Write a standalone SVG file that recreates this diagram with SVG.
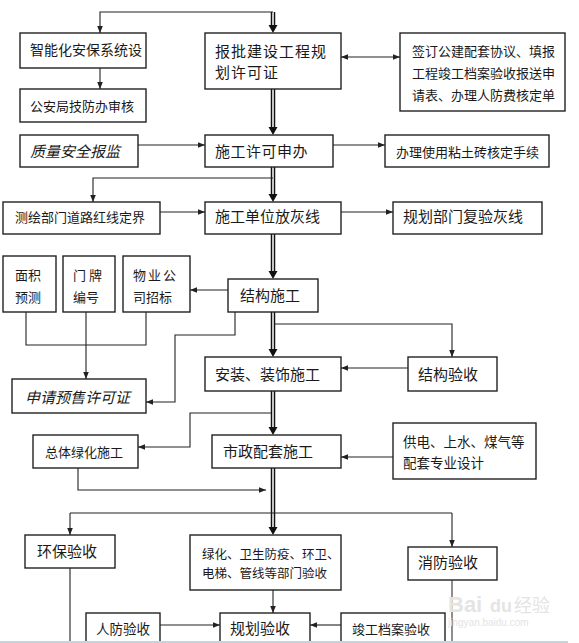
<svg xmlns="http://www.w3.org/2000/svg" width="579" height="643" viewBox="0 0 579 643">
<style>
.box{fill:#fff;stroke:#222;stroke-width:1.4}
.t{font-family:"Noto Sans CJK SC","Noto Sans",sans-serif;fill:#1a1a1a}
.f15{font-size:15px}
.f13{font-size:13px}
.it{font-style:italic}
.ln{fill:none;stroke:#222;stroke-width:1.1}
.dbl{fill:none;stroke:#111;stroke-width:1.5}
.ah{fill:#111}
.wm{font-family:"Liberation Sans",sans-serif;fill:#e4e4e4}
</style>
<defs>
<marker id="a" viewBox="0 0 10 10" refX="10" refY="5" markerUnits="userSpaceOnUse" markerWidth="7" markerHeight="7" orient="auto-start-reverse">
<path d="M0,1 L10,5 L0,9 z" fill="#222"/>
</marker>
</defs>
<rect width="579" height="643" fill="#fff"/>

<g id="connectors">
<!-- top line -->
<polyline class="ln" points="273,12 100,12 100,33" marker-end="url(#a)"/>
<line class="ln" x1="100" y1="68" x2="100" y2="89" marker-end="url(#a)"/>
<!-- spine -->
<line class="dbl" x1="271.5" y1="12" x2="271.5" y2="25"/><line class="dbl" x1="274.5" y1="12" x2="274.5" y2="25"/><polygon class="ah" points="268.5,25 277.5,25 273,33"/>
<line class="dbl" x1="271.5" y1="89" x2="271.5" y2="127"/><line class="dbl" x1="274.5" y1="89" x2="274.5" y2="127"/><polygon class="ah" points="268.5,127 277.5,127 273,135"/>
<line class="dbl" x1="271.5" y1="167" x2="271.5" y2="194"/><line class="dbl" x1="274.5" y1="167" x2="274.5" y2="194"/><polygon class="ah" points="268.5,194 277.5,194 273,202"/>
<line class="dbl" x1="271.5" y1="234" x2="271.5" y2="271"/><line class="dbl" x1="274.5" y1="234" x2="274.5" y2="271"/><polygon class="ah" points="268.5,271 277.5,271 273,279"/>
<line class="dbl" x1="271.5" y1="312" x2="271.5" y2="349"/><line class="dbl" x1="274.5" y1="312" x2="274.5" y2="349"/><polygon class="ah" points="268.5,349 277.5,349 273,357"/>
<line class="dbl" x1="271.5" y1="391" x2="271.5" y2="427"/><line class="dbl" x1="274.5" y1="391" x2="274.5" y2="427"/><polygon class="ah" points="268.5,427 277.5,427 273,435"/>
<line class="dbl" x1="271.5" y1="468" x2="271.5" y2="527"/><line class="dbl" x1="274.5" y1="468" x2="274.5" y2="527"/><polygon class="ah" points="268.5,527 277.5,527 273,535"/>
<line class="ln" x1="273" y1="590" x2="273" y2="613" marker-end="url(#a)"/>
<!-- side arrows -->
<line class="ln" x1="341" y1="57" x2="400" y2="57" marker-start="url(#a)" marker-end="url(#a)"/>
<line class="ln" x1="138" y1="145" x2="205" y2="145" marker-end="url(#a)"/>
<line class="ln" x1="333" y1="145" x2="385" y2="145" marker-end="url(#a)"/>
<polyline class="ln" points="273,178 93,178 93,202" marker-end="url(#a)"/>
<line class="ln" x1="160" y1="212" x2="205" y2="212" marker-end="url(#a)"/>
<line class="ln" x1="341" y1="212" x2="393" y2="212" marker-end="url(#a)"/>
<line class="ln" x1="228" y1="290" x2="190" y2="290" marker-end="url(#a)"/>
<polyline class="ln" points="26,312 26,345 146,345 146,312"/>
<line class="ln" x1="86" y1="312" x2="86" y2="379" marker-end="url(#a)"/>
<polyline class="ln" points="235,312 235,335 175,335 175,402 146,402" marker-end="url(#a)"/>
<polyline class="ln" points="275,324 452,324 452,357" marker-end="url(#a)"/>
<line class="ln" x1="408" y1="368" x2="341" y2="368" marker-end="url(#a)"/>
<polyline class="ln" points="271,413 190,413 190,447 138,447" marker-end="url(#a)"/>
<polyline class="ln" points="78,468 78,490 266,490" marker-end="url(#a)"/>
<line class="ln" x1="393" y1="457" x2="341" y2="457" marker-end="url(#a)"/>
<line class="ln" x1="70" y1="513" x2="452" y2="513"/>
<line class="ln" x1="70" y1="513" x2="70" y2="535" marker-end="url(#a)"/>
<line class="ln" x1="452" y1="513" x2="452" y2="547" marker-end="url(#a)"/>
<line x1="70" y1="568" x2="70" y2="643" stroke="#666" stroke-width="1.6"/>
<line x1="452" y1="580" x2="452" y2="643" stroke="#444" stroke-width="1.2"/>
<line class="ln" x1="160" y1="625" x2="220" y2="625" marker-end="url(#a)"/>
<line class="ln" x1="341" y1="625" x2="310" y2="625" marker-end="url(#a)"/>
</g>

<g id="n-zhineng"><rect class="box" x="20" y="33" width="126" height="35"/><text class="t" x="30" y="55" font-size="14">智能化安保系统设</text></g>
<g id="n-gongan"><rect class="box" x="20" y="89" width="126" height="33"/><text class="t f13" x="30" y="111">公安局技防办审核</text></g>
<g id="n-baopi"><rect class="box" x="205" y="33" width="136" height="56"/><text class="t f15" x="215" y="57" letter-spacing="1">报批建设工程规</text><text class="t f15" x="215" y="78" letter-spacing="1">划许可证</text></g>
<g id="n-qianding"><rect class="box" x="400" y="33" width="165" height="78"/><text class="t f13" x="412" y="55.5">签订公建配套协议、填报</text><text class="t f13" x="412" y="77.5">工程竣工档案验收报送申</text><text class="t f13" x="412" y="99.5">请表、办理人防费核定单</text></g>
<g id="n-zhiliang"><rect class="box" x="20" y="135" width="118" height="32"/><text class="t f15 it" x="30" y="157">质量安全报监</text></g>
<g id="n-shigongxuke"><rect class="box" x="205" y="135" width="128" height="32"/><text class="t f15" x="215" y="157" letter-spacing="0.5">施工许可申办</text></g>
<g id="n-banli"><rect class="box" x="385" y="135" width="164" height="32"/><text class="t f13" x="396" y="156.5">办理使用粘土砖核定手续</text></g>
<g id="n-cehui"><rect class="box" x="3" y="202" width="157" height="32"/><text class="t f13" x="15" y="221.5">测绘部门道路红线定界</text></g>
<g id="n-fanghui"><rect class="box" x="205" y="202" width="136" height="32"/><text class="t f15" x="215" y="222">施工单位放灰线</text></g>
<g id="n-fuyan"><rect class="box" x="393" y="202" width="149" height="32"/><text class="t f15" x="403" y="222">规划部门复验灰线</text></g>
<g id="n-mianji"><rect class="box" x="3" y="256" width="53" height="56"/><text class="t f13" x="15" y="279.5">面积</text><text class="t f13" x="15" y="301.5">预测</text></g>
<g id="n-menpai"><rect class="box" x="63" y="256" width="52" height="56"/><text class="t f13" x="73" y="279.5">门 牌</text><text class="t f13" x="73" y="301.5">编号</text></g>
<g id="n-wuye"><rect class="box" x="123" y="256" width="67" height="56"/><text class="t f13" x="133" y="279.5" letter-spacing="2">物业公</text><text class="t f13" x="133" y="301.5">司招标</text></g>
<g id="n-jiegou"><rect class="box" x="228" y="279" width="90" height="33"/><text class="t f15" x="240" y="301">结构施工</text></g>
<g id="n-shenqing"><rect class="box" x="12" y="379" width="134" height="34"/><text class="t f15 it" x="25" y="403">申请预售许可证</text></g>
<g id="n-anzhuang"><rect class="box" x="205" y="357" width="136" height="34"/><text class="t f15" x="215" y="380">安装、装饰施工</text></g>
<g id="n-jiegouyanshou"><rect class="box" x="408" y="357" width="89" height="34"/><text class="t f15" x="418" y="380">结构验收</text></g>
<g id="n-zongti"><rect class="box" x="33" y="435" width="105" height="33"/><text class="t f13" x="45" y="456.5">总体绿化施工</text></g>
<g id="n-shizheng"><rect class="box" x="212" y="435" width="129" height="33"/><text class="t f15" x="223" y="457">市政配套施工</text></g>
<g id="n-gongdian"><rect class="box" x="393" y="423" width="143" height="56"/><text class="t" x="403" y="447" font-size="13.5">供电、上水、煤气等</text><text class="t" x="403" y="468" font-size="13.5">配套专业设计</text></g>
<g id="n-huanbao"><rect class="box" x="25" y="535" width="90" height="33"/><text class="t f15" x="37" y="557">环保验收</text></g>
<g id="n-lvhua"><rect class="box" x="190" y="535" width="151" height="55"/><text class="t" x="202" y="558.5" font-size="12.5">绿化、卫生防疫、环卫、</text><text class="t" x="202" y="577.5" font-size="12.5">电梯、管线等部门验收</text></g>
<g id="n-xiaofang"><rect class="box" x="408" y="547" width="89" height="33"/><text class="t f15" x="418" y="568">消防验收</text></g>
<g id="n-renfang"><rect class="box" x="86" y="613" width="74" height="40"/><text class="t" x="96" y="634" font-size="13.5">人防验收</text></g>
<g id="n-guihua"><rect class="box" x="220" y="613" width="90" height="40"/><text class="t f15" x="230" y="634">规划验收</text></g>
<g id="n-jungong"><rect class="box" x="341" y="613" width="104" height="40"/><text class="t f13" x="352" y="634">竣工档案验收</text></g>

<g id="watermark">
<text class="wm" x="448" y="612" font-size="22" font-weight="bold">Bai</text>
<text class="wm" x="490" y="612" font-size="18" font-weight="bold">du</text>
<text x="514" y="612" font-size="18" font-family="Noto Sans CJK SC,sans-serif" fill="#e4e4e4">经验</text>
<text class="wm" x="448" y="626" font-size="10">jingyan.baidu.com</text>
</g>
<rect x="0" y="641" width="568" height="2" fill="#c9d3de"/>
</svg>
